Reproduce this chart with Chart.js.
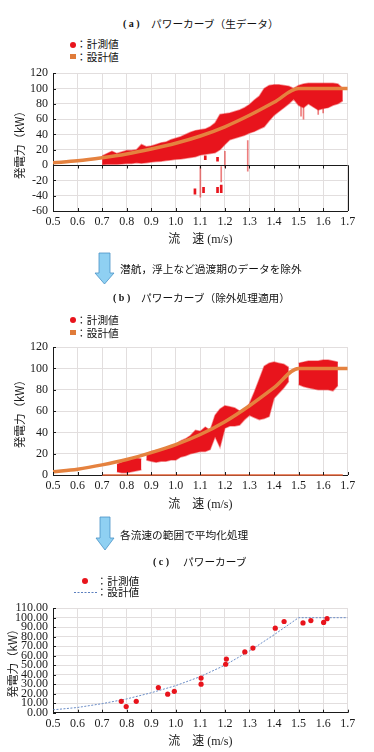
<!DOCTYPE html>
<html>
<head>
<meta charset="utf-8">
<script src="https://cdn.jsdelivr.net/npm/chart.js@4.4.1/dist/chart.umd.min.js"></script>
<style>
  body { margin: 0; width: 374px; height: 752px; position: relative; overflow: hidden; background: #fff;
         font-family: "Noto Sans CJK JP", "Noto Sans", sans-serif; color: #111; }
  canvas { position: absolute; left: 0; }
  .t { position: absolute; white-space: nowrap; font-size: 10.7px; line-height: 1; }
  .s { font-family: "Liberation Serif", serif; font-weight: bold; font-size: 10px; }
  .dot { position: absolute; width: 6px; height: 6px; border-radius: 50%; background: #e8141c; }
  .sq { position: absolute; width: 6px; height: 5px; background: #e07b39; }
  svg { position: absolute; left: 0; top: 0; }
</style>
</head>
<body>

<!-- (a) -->
<div class="t s" style="left:123px; top:19px;">( a )</div>
<div class="t" style="left:151px; top:18.5px;">パワーカーブ（生データ）</div>
<div class="dot" style="left:70px; top:42px;"></div>
<div class="t" style="left:76px; top:39px;">：計測値</div>
<div class="sq" style="left:70px; top:54px;"></div>
<div class="t" style="left:76px; top:51.5px;">：設計値</div>
<canvas id="chartA" width="374" height="189" style="top:61px;"></canvas>

<!-- arrows -->
<svg width="374" height="752">
  <polygon points="99,253 110,253 110,273 114,273 104.5,284 95,273 99,273" fill="#8fd0f2" stroke="#4a93c6" stroke-width="0.8"/>
  <polygon points="100,517 110,517 110,538 114,538 105,550 96,538 100,538" fill="#8fd0f2" stroke="#4a93c6" stroke-width="0.8"/>
  <line x1="74" y1="592.5" x2="97" y2="592.5" stroke="#5b7fbf" stroke-width="1" stroke-dasharray="2,1.5"/>
</svg>
<div class="t" style="left:120px; top:263.5px;">潜航，浮上など過渡期のデータを除外</div>

<!-- (b) -->
<div class="t s" style="left:113px; top:293px;">( b )</div>
<div class="t" style="left:141px; top:292.5px;">パワーカーブ（除外処理適用）</div>
<div class="dot" style="left:70px; top:317px;"></div>
<div class="t" style="left:76px; top:314.5px;">：計測値</div>
<div class="sq" style="left:70px; top:330px;"></div>
<div class="t" style="left:76px; top:327.5px;">：設計値</div>
<canvas id="chartB" width="374" height="179" style="top:335px;"></canvas>

<div class="t" style="left:120px; top:529.5px;">各流速の範囲で平均化処理</div>

<!-- (c) -->
<div class="t s" style="left:153px; top:557px;">( c )</div>
<div class="t" style="left:183px; top:556.5px;">パワーカーブ</div>
<div class="dot" style="left:82px; top:578px;"></div>
<div class="t" style="left:96.5px; top:575.5px;">：計測値</div>
<div class="t" style="left:96.5px; top:587px;">：設計値</div>
<canvas id="chartC" width="374" height="156" style="top:596px;"></canvas>

<script>
// Design power curve (設計値)
const DESIGN_V  = [0.5, 0.6, 0.7, 0.8, 0.9, 1.0, 1.1, 1.2, 1.3, 1.4, 1.5, 1.6, 1.7];
const DESIGN_KW = [3, 5.5, 9.5, 14.5, 21, 28.5, 38, 50, 65, 82, 100, 100, 100];

// (a) raw data cloud, read per 0.02 m/s bin: lowest / highest measured kW
const RAW_V  = [0.70, 0.72, 0.74, 0.76, 0.78, 0.80, 0.82, 0.84, 0.86, 0.88,
                0.90, 0.92, 0.94, 0.96, 0.98, 1.00, 1.02, 1.04, 1.06, 1.08,
                1.10, 1.12, 1.14, 1.16, 1.18, 1.20, 1.22, 1.24, 1.26, 1.28,
                1.30, 1.32, 1.34, 1.36, 1.38, 1.40, 1.42, 1.44, 1.46, 1.48,
                1.50, 1.52, 1.54, 1.56, 1.58, 1.60, 1.62, 1.64, 1.66, 1.68];
const RAW_LO = [0.5, 1, 1, 1, 1.5, 2, 2, 3, 2.5, 3,
                4, 4.5, 5, 6, 6.5, 7.5, 8, 9, 10, 11,
                13, 14, 15, 16, 20, 27, 33, 35, 37, 39,
                42, 44, 47, 50, 58, 65, 70, 75, 80, 86,
                78, 75, 80, 76, 72, 74, 75, 78, 80, 84];
const RAW_HI = [12, 15, 18, 15, 17, 19, 19, 20, 27, 24,
                25, 27, 29, 30, 33, 35, 37, 40, 43, 45,
                46, 47, 50, 55, 66, 67, 68, 70, 72, 75,
                79, 85, 90, 100, 104, 105, 105, 104, 103, 100,
                104, 106, 107, 107, 107, 107, 107, 107, 106, 100];
// (a) isolated clusters and sparse traces (transient data)
const RAW_OUT_V  = [1.078, 1.113, 1.12, 1.17, 1.17, 1.185];
const RAW_OUT_LO = [-38, -36, 7, -36, 5, -36];
const RAW_OUT_HI = [-31, -29, 12, -29, 10, -26];
const RAW_TRACE_V  = [1.10, 1.185, 1.20, 1.293, 1.51, 1.52, 1.58, 1.60];
const RAW_TRACE_LO = [-42, -22, -3, -8, 64, 60, 66, 68];
const RAW_TRACE_HI = [-2, -2, 18, 32, 80, 76, 74, 76];

// (b) data after exclusion, per 0.02 m/s bin (null = gap between clusters)
const EXC_V  = [0.76, 0.78, 0.80, 0.82, 0.84, 0.86, 0.87,
                0.88, 0.90, 0.92, 0.94, 0.96, 0.98, 1.00, 1.02, 1.04,
                1.06, 1.08, 1.10, 1.12, 1.14,
                1.16, 1.18, 1.20, 1.22, 1.24, 1.26, 1.28,
                1.30, 1.32, 1.34, 1.36, 1.38, 1.40, 1.42, 1.44, 1.46, 1.48,
                1.50, 1.52, 1.54, 1.56, 1.58, 1.60, 1.62, 1.64, 1.66];
const EXC_LO = [3, 2, 2, 3, 4, 5, null,
                14, 13, 12, 13, 13, 14, 14, 17, 18,
                20, 21, 22, 22, 24,
                36, 26, 44, 46, 46, 47, 52,
                56, 54, 52, 53, 55, 72, 77, 82, 88, null,
                85, 83, 82, 81, 80, 80, 80, 79, 84];
const EXC_HI = [10, 12, 14, 15, 16, 15, null,
                20, 22, 23, 24, 25, 27, 29, 32, 34,
                37, 42, 41, 45, 42,
                56, 62, 65, 64, 63, 60, 61,
                67, 78, 90, 102, 105, 106, 105, 104, 101, null,
                105, 106, 107, 107, 107, 108, 108, 107, 106];
const EXC_ZERO_V  = [0.70, 1.68];
const EXC_ZERO_KW = [0, 0];

// (c) averaged values
const AVG_V  = [0.778, 0.798, 0.839, 0.929, 0.967, 0.994, 1.103, 1.103, 1.203,
                1.206, 1.281, 1.314, 1.405, 1.441, 1.518, 1.550, 1.602, 1.616];
const AVG_KW = [12, 6.5, 12, 26.5, 19.5, 22.5, 36.5, 30, 51,
                56.5, 64, 68, 89, 96, 94.5, 97, 95, 99];

const SERIF = '"Liberation Serif", serif';
const SANS = '"Noto Sans CJK JP", "Noto Sans", sans-serif';
const AXIS = '#1a1a1a';
const GRID = '#e2dede';
const RED = '#e8141c';
const RED_EDGE = 'rgba(232,30,36,0.45)';
const ORANGE = '#e5823f';

const pairs = (xs, ys) => xs.map((x, i) => ({ x: x, y: ys[i] }));
const ranges = (xs, lo, hi) => xs.map((x, i) => ({ x: x, y: [lo[i], hi[i]] }));

// inward tick marks, zero line ticks and right border below zero
const frameMarks = {
    id: 'frameMarks',
    afterDatasetsDraw(chart, args, opts) {
        const { ctx, chartArea: a, scales: { x, y } } = chart;
        ctx.save();
        ctx.strokeStyle = AXIS;
        ctx.lineWidth = 1;
        ctx.beginPath();
        x.ticks.forEach(t => {
            const px = Math.round(x.getPixelForValue(t.value)) + 0.5;
            ctx.moveTo(px, a.bottom);
            ctx.lineTo(px, a.bottom - 3);
            if (opts.zero) {
                const py = Math.round(y.getPixelForValue(0)) + 0.5;
                ctx.moveTo(px, py);
                ctx.lineTo(px, py + 3);
            }
        });
        y.ticks.forEach(t => {
            const py = Math.round(y.getPixelForValue(t.value)) + 0.5;
            ctx.moveTo(a.left, py);
            ctx.lineTo(a.left + 3, py);
        });
        if (opts.zero) {
            const rx = Math.round(a.right) + 0.5;
            const py = Math.round(y.getPixelForValue(0)) + 0.5;
            ctx.moveTo(a.left, py);
            ctx.lineTo(a.right, py);
            ctx.moveTo(rx, py);
            ctx.lineTo(rx, a.bottom);
        }
        ctx.stroke();
        ctx.restore();
    }
};

function xAxis(height, titlePad) {
    return {
        type: 'linear', min: 0.5, max: 1.7, offset: false,
        ticks: { stepSize: 0.1, padding: 4, color: AXIS, autoSkip: false, maxRotation: 0,
                 font: { family: SERIF, size: 12 }, callback: v => v.toFixed(1) },
        grid: { color: GRID, drawTicks: false, offset: false },
        border: { color: AXIS, width: 1 },
        title: { display: true, text: '流　速 (m/s)', color: AXIS,
                 font: { family: SERIF + ', ' + SANS, size: 12 }, padding: { top: 0, bottom: titlePad } },
        afterFit: s => { s.height = height; }
    };
}

function yAxis(min, max, step, digits, titlePad) {
    return {
        min: min, max: max,
        ticks: { stepSize: step, padding: 5, color: AXIS, autoSkip: false,
                 font: { family: SERIF, size: 12 }, callback: v => v.toFixed(digits) },
        grid: { drawTicks: false, color: GRID },
        border: { color: AXIS, width: 1 },
        title: { display: true, text: '発電力（kW）', color: AXIS,
                 font: { family: SANS, size: 11.5 }, padding: { top: titlePad, bottom: 0 } },
        afterFit: s => { s.width = 53; }
    };
}

function designLine(width) {
    return {
        type: 'line', order: 0, data: pairs(DESIGN_V, DESIGN_KW),
        borderColor: ORANGE, borderWidth: width, pointRadius: 0,
        cubicInterpolationMode: 'monotone'
    };
}

// cloud envelope: upper bound line, then lower bound filled up to it
function cloudTop(xs, hi) {
    return { type: 'line', order: 2, data: pairs(xs, hi), borderWidth: 1.5, borderColor: RED_EDGE,
             pointRadius: 0, fill: false, spanGaps: false, tension: 0 };
}
function cloudBottom(xs, lo) {
    return { type: 'line', order: 2, data: pairs(xs, lo), borderWidth: 1.5, borderColor: RED_EDGE,
             pointRadius: 0, fill: '-1', backgroundColor: RED, spanGaps: false, tension: 0 };
}

function marks(data, thickness, color) {
    return {
        type: 'bar', order: 3, data: data, grouped: false,
        backgroundColor: color, borderWidth: 0, barThickness: thickness
    };
}

const common = {
    responsive: false, animation: false, events: [],
    plugins: { legend: { display: false }, tooltip: { enabled: false } }
};

// (a) raw data
new Chart(document.getElementById('chartA'), {
    type: 'bar',
    data: {
        datasets: [
            designLine(3.5),
            cloudTop(RAW_V, RAW_HI),
            cloudBottom(RAW_V, RAW_LO),
            marks(ranges(RAW_OUT_V, RAW_OUT_LO, RAW_OUT_HI), 2, RED),
            marks(ranges(RAW_TRACE_V, RAW_TRACE_LO, RAW_TRACE_HI), 1, 'rgba(225,40,40,0.6)')
        ]
    },
    options: Object.assign({}, common, {
        layout: { padding: { left: 0, right: 26.3, top: 10.3, bottom: 0 } },
        scales: { x: xAxis(39, 3), y: yAxis(-60, 120, 20, 0, 13) },
        plugins: Object.assign({}, common.plugins, { frameMarks: { zero: true } })
    }),
    plugins: [frameMarks]
});

// (b) after exclusion
new Chart(document.getElementById('chartB'), {
    type: 'bar',
    data: {
        datasets: [
            designLine(3.5),
            cloudTop(EXC_V, EXC_HI),
            cloudBottom(EXC_V, EXC_LO),
            { type: 'line', order: 1, data: pairs(EXC_ZERO_V, EXC_ZERO_KW), clip: false,
              borderColor: '#e4643a', borderWidth: 1.5, pointRadius: 0 }
        ]
    },
    options: Object.assign({}, common, {
        layout: { padding: { left: 0, right: 26.3, top: 10, bottom: 0 } },
        scales: { x: xAxis(39, 2), y: yAxis(0, 120, 20, 0, 13) },
        plugins: Object.assign({}, common.plugins, { frameMarks: { zero: false } })
    }),
    plugins: [frameMarks]
});

// (c) averaged
new Chart(document.getElementById('chartC'), {
    type: 'scatter',
    data: {
        datasets: [
            { type: 'scatter', order: 0, data: pairs(AVG_V, AVG_KW),
              backgroundColor: RED, borderWidth: 0, pointRadius: 2.6 },
            { type: 'line', order: 1, data: pairs(DESIGN_V, DESIGN_KW),
              borderColor: '#6a8cc6', borderWidth: 1, borderDash: [2, 1.5],
              pointRadius: 0, tension: 0 }
        ]
    },
    options: Object.assign({}, common, {
        layout: { padding: { left: 0, right: 26.3, top: 10, bottom: 0 } },
        scales: { x: xAxis(39.3, 3), y: yAxis(0, 110, 10, 2, 6) },
        plugins: Object.assign({}, common.plugins, { frameMarks: { zero: false } })
    }),
    plugins: [frameMarks]
});
</script>
</body>
</html>
